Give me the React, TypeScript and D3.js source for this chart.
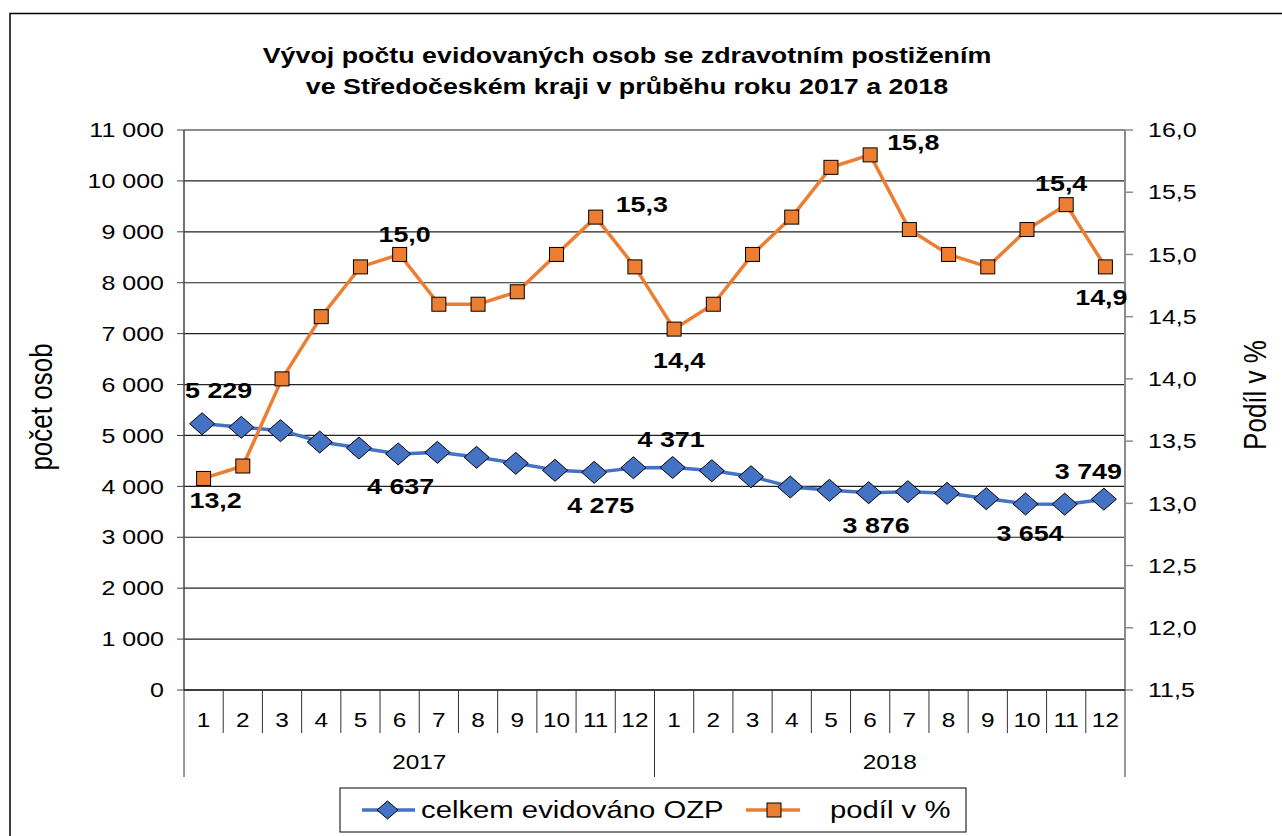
import React from 'react';
import * as d3 from 'd3';

// month labels on the category axis, grouped by year
const months = ['1', '2', '3', '4', '5', '6', '7', '8', '9', '10', '11', '12',
  '1', '2', '3', '4', '5', '6', '7', '8', '9', '10', '11', '12'];
const years = ['2017', '2018'];

// celkem evidováno OZP (left axis)
const counts = [5229, 5160, 5094, 4871, 4753, 4637, 4668, 4570, 4452, 4315, 4275, 4366,
  4371, 4307, 4189, 3987, 3922, 3876, 3895, 3863, 3758, 3654, 3650, 3749];
// podíl v % (right axis)
const shares = [13.2, 13.3, 14.0, 14.5, 14.9, 15.0, 14.6, 14.6, 14.7, 15.0, 15.3, 14.9,
  14.4, 14.6, 15.0, 15.3, 15.7, 15.8, 15.2, 15.0, 14.9, 15.2, 15.4, 14.9];

const leftTicks = d3.range(0, 11001, 1000);
const rightTicks = d3.range(11.5, 16.01, 0.5);

const titleLines = [
  'Vývoj počtu evidovaných osob se zdravotním postižením',
  've Středočeském kraji v průběhu roku 2017 a 2018',
];

const FONT = '"Liberation Sans", Arial, sans-serif';
const BLUE = '#4472C4';
const ORANGE = '#ED7D31';
const SX = 1.22; // the original picture is stretched horizontally

const cz = d3.formatLocale({ decimal: ',', thousands: ' ', grouping: [3], currency: ['', ''] });
const fmtCount = cz.format(',d');
const fmtShare = cz.format('.1f');

const T = ({ x, y, size, anchor = 'start', bold = false, rotate = 0, mid = false, children }: any) => (
  <text transform={`translate(${x},${y}) scale(${SX},1)${rotate ? ` rotate(${rotate})` : ''}`}
    textAnchor={anchor} fontSize={size} fontWeight={bold ? 'bold' : 'normal'} dy={mid ? '0.35em' : undefined}>
    {children}
  </text>
);

const App = () => {
  const left = 184, right = 1125, top = 130, bottom = 690;

  const x = d3.scaleBand<number>().domain(d3.range(months.length)).range([left, right]).padding(0);
  const cx = (i: number) => (x(i) as number) + x.bandwidth() / 2;
  const yL = d3.scaleLinear().domain([0, 11000]).range([bottom, top]);
  const yR = d3.scaleLinear().domain([11.5, 16]).range([bottom, top]);

  const lineCounts = d3.line<number>().x((_, i) => cx(i)).y(d => yL(d));
  const lineShares = d3.line<number>().x((_, i) => cx(i)).y(d => yR(d));

  // which points get a value label, and where it sits relative to the marker
  const countLabels = [
    { i: 0, dx: 15, dy: -26, anchor: 'middle' },
    { i: 5, dx: 1, dy: 40, anchor: 'middle' },
    { i: 10, dx: 5, dy: 41, anchor: 'middle' },
    { i: 12, dx: -3, dy: -20, anchor: 'middle' },
    { i: 17, dx: 6, dy: 40, anchor: 'middle' },
    { i: 21, dx: 3, dy: 37, anchor: 'middle' },
    { i: 23, dx: -17, dy: -20, anchor: 'middle' },
  ];
  const shareLabels = [
    { i: 0, dx: 12, dy: 30, anchor: 'middle' },
    { i: 5, dx: 5, dy: -12, anchor: 'middle' },
    { i: 10, dx: 20, dy: -5, anchor: 'start' },
    { i: 12, dx: 5, dy: 39, anchor: 'middle' },
    { i: 17, dx: 17, dy: -5, anchor: 'start' },
    { i: 22, dx: -5, dy: -14, anchor: 'middle' },
    { i: 23, dx: -4, dy: 38, anchor: 'middle' },
  ];

  const diamond = (px: number, py: number, r = 11) =>
    `M${px - 1.5},${py - r}L${px + r},${py}L${px - 1.5},${py + r}L${px - r - 3},${py}Z`;

  const yearSpan = months.length / years.length;

  return (
    <svg width={1282} height={836} style={{ position: 'absolute', left: 0, top: 0, background: '#fff' }}
      fontFamily={FONT}>
      <rect x={10} y={13.5} width={1300} height={900} fill="#fff" stroke="#000" strokeWidth={1.5} />

      {titleLines.map((t, k) => (
        <T key={t} x={627} y={63 + k * 31} anchor="middle" size={22} bold>{t}</T>
      ))}

      {/* gridlines */}
      {leftTicks.map(t => (
        <line key={t} x1={left} x2={right} y1={yL(t)} y2={yL(t)}
          stroke={t === 11000 ? '#8c8c8c' : '#222'} strokeWidth={t === 11000 ? 2 : 1.2} />
      ))}

      {/* left axis */}
      <line x1={left} x2={left} y1={top} y2={bottom} stroke="#444" strokeWidth={1.5} />
      {leftTicks.map(t => (
        <g key={t}>
          <line x1={left - 7} x2={left} y1={yL(t)} y2={yL(t)} stroke="#444" />
          <T x={164} y={yL(t)} anchor="end" size={20.5} mid>{fmtCount(t)}</T>
        </g>
      ))}
      <T x={52} y={407} anchor="middle" size={26} rotate={-90}>počet osob</T>

      {/* right axis */}
      <line x1={right} x2={right} y1={top} y2={bottom} stroke="#8c8c8c" strokeWidth={2} />
      {rightTicks.map(t => (
        <g key={t}>
          <line x1={right} x2={right + 8} y1={yR(t)} y2={yR(t)} stroke="#8c8c8c" strokeWidth={1.5} />
          <T x={1148} y={yR(t)} size={20.5} mid>{fmtShare(t)}</T>
        </g>
      ))}
      <T x={1266} y={395} anchor="middle" size={26} rotate={-90}>Podíl v %</T>

      {/* category axis */}
      <line x1={left} x2={right} y1={bottom} y2={bottom} stroke="#222" strokeWidth={1.5} />
      {months.map((m, i) => (
        <g key={i}>
          {i > 0 && i % yearSpan !== 0 && (
            <line x1={x(i)} x2={x(i)} y1={bottom} y2={733} stroke="#333" />
          )}
          <T x={cx(i)} y={727} anchor="middle" size={20}>{m}</T>
        </g>
      ))}
      {d3.range(years.length + 1).map(k => {
        const xx = k === years.length ? right : (x(k * yearSpan) as number);
        return <line key={k} x1={xx} x2={xx} y1={bottom} y2={777} stroke="#333" />;
      })}
      {years.map((yr, k) => {
        const x0 = x(k * yearSpan) as number;
        const x1 = k === years.length - 1 ? right : (x((k + 1) * yearSpan) as number);
        return <T key={yr} x={(x0 + x1) / 2} y={769} anchor="middle" size={20}>{yr}</T>;
      })}

      {/* series */}
      <path d={lineCounts(counts) as string} fill="none" stroke={BLUE} strokeWidth={3.5} />
      <path d={lineShares(shares) as string} fill="none" stroke={ORANGE} strokeWidth={3.5} />
      {counts.map((v, i) => (
        <path key={i} d={diamond(cx(i), yL(v))} fill={BLUE} stroke="#000" strokeWidth={1} />
      ))}
      {shares.map((v, i) => (
        <rect key={i} x={cx(i) - 7} y={yR(v) - 7} width={14} height={14} fill={ORANGE} stroke="#000" strokeWidth={1} />
      ))}

      {/* value labels */}
      {countLabels.map(l => (
        <T key={'c' + l.i} x={cx(l.i) + l.dx} y={yL(counts[l.i]) + l.dy} anchor={l.anchor}
          size={22} bold>{fmtCount(counts[l.i])}</T>
      ))}
      {shareLabels.map(l => (
        <T key={'s' + l.i} x={cx(l.i) + l.dx} y={yR(shares[l.i]) + l.dy} anchor={l.anchor}
          size={22} bold>{fmtShare(shares[l.i])}</T>
      ))}

      {/* legend */}
      <rect x={340} y={788} width={626} height={44} fill="#fff" stroke="#000" strokeWidth={1} />
      <line x1={362} x2={415} y1={810} y2={810} stroke={BLUE} strokeWidth={3.5} />
      <path d={diamond(389, 810, 9)} fill={BLUE} stroke="#000" />
      <T x={421} y={810} size={24} mid>celkem evidováno OZP</T>
      <line x1={746} x2={800} y1={810} y2={810} stroke={ORANGE} strokeWidth={3.5} />
      <rect x={767} y={803} width={14} height={14} fill={ORANGE} stroke="#000" />
      <T x={830} y={810} size={24} mid>podíl v %</T>
    </svg>
  );
};

export default App;
